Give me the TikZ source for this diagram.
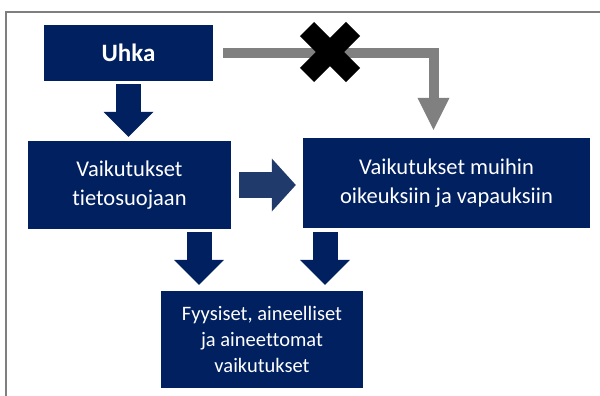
\documentclass[tikz,border=0pt]{standalone}
\usepackage{fontspec}
\setmainfont{Carlito}[Ligatures=NoCommon]
\usetikzlibrary{arrows.meta}
\definecolor{navy}{HTML}{002060}
\definecolor{midnavy}{HTML}{213A6C}
\definecolor{arrowgray}{HTML}{808080}
\definecolor{framegray}{HTML}{7F7F7F}
\begin{document}
\begin{tikzpicture}[x=1pt,y=-1pt,
        box/.style={fill=navy,text=white,align=center,inner sep=0pt},
        bigarrow/.style={navy,line width=25pt,-{Triangle[length=25pt,width=50pt,line width=0pt]}},
    ]
    \useasboundingbox (0,0) rectangle (600,396);
    \draw[framegray,line width=1.5pt] (600,12) -- (6,12) -- (6,396);
    %boxes
    \node[box,minimum width=169pt,minimum height=56pt,font=\fontsize{25}{30}\selectfont\bfseries] at (128.5,53)(uhka){Uhka};
    \node[box,minimum width=203pt,minimum height=88pt,font=\fontsize{22.5}{29}\selectfont] at (129.5,185)(effdp){Vaikutukset\\tietosuojaan};
    \node[box,minimum width=287pt,minimum height=90pt,font=\fontsize{22.5}{29}\selectfont] at (446.5,183)(effother){Vaikutukset muihin\\oikeuksiin ja vapauksiin};
    \node[box,minimum width=202pt,minimum height=97pt,font=\fontsize{20.5}{26}\selectfont] at (262,339.5)(harm){Fyysiset, aineelliset\\ja aineettomat\\vaikutukset};
    %arrows
    \draw[bigarrow,shorten <=3pt,shorten >=4pt] (uhka.south) -- (uhka.south |- effdp.north);
    \draw[bigarrow,midnavy,line width=26pt,-{Triangle[length=24pt,width=53pt,line width=0pt]},shorten <=8pt,shorten >=7pt] (effdp.east) -- (effdp.east -| effother.west);
    \draw[bigarrow,shorten <=3pt,shorten >=6pt] ([xshift=-63pt]harm.north |- effdp.south) -- ([xshift=-63pt]harm.north);
    \draw[bigarrow,shorten <=4pt,shorten >=6pt] ([xshift=63pt]harm.north |- effother.south) -- ([xshift=63pt]harm.north);
    \draw[arrowgray,line width=10pt,-{Triangle[length=32pt,width=32pt,line width=0pt]},shorten <=10pt,shorten >=8pt] (uhka.east) -| ([xshift=-13pt]effother.north);
    %cross
    \coordinate (cross) at (330,52);
    \draw[line width=20pt] ([shift={(-23,-23)}]cross) -- ([shift={(23,23)}]cross);
    \draw[line width=20pt] ([shift={(-23,23)}]cross) -- ([shift={(23,-23)}]cross);
\end{tikzpicture}
\end{document}
